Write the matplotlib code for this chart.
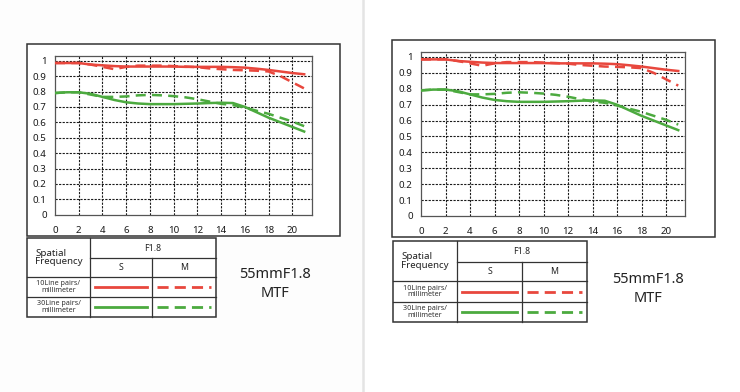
import matplotlib
matplotlib.use("Agg")
import matplotlib.pyplot as plt
from matplotlib.patches import Rectangle

plt.rcParams["font.family"] = ["Noto Sans", "DejaVu Sans"]

# MTF data (image height in mm vs contrast)
height_mm = [0, 1, 2, 3, 4, 5, 6, 7, 8, 9, 10, 11, 12, 13, 14, 15, 16, 17, 18, 19, 20, 21]
lp10_sagittal = [0.985, 0.985, 0.985, 0.975, 0.97, 0.965, 0.962, 0.962, 0.962, 0.962, 0.962,
                 0.96, 0.96, 0.96, 0.96, 0.958, 0.955, 0.948, 0.94, 0.93, 0.92, 0.912]
lp10_meridional = [0.985, 0.985, 0.985, 0.975, 0.96, 0.945, 0.96, 0.968, 0.968, 0.968, 0.965,
                   0.962, 0.958, 0.95, 0.945, 0.94, 0.938, 0.935, 0.93, 0.9, 0.86, 0.82]
lp30_sagittal = [0.79, 0.795, 0.795, 0.785, 0.765, 0.745, 0.73, 0.722, 0.718, 0.718, 0.718,
                 0.72, 0.722, 0.725, 0.727, 0.725, 0.7, 0.665, 0.63, 0.6, 0.57, 0.54]
lp30_meridional = [0.79, 0.795, 0.795, 0.78, 0.765, 0.765, 0.768, 0.775, 0.778, 0.775, 0.77,
                   0.762, 0.75, 0.735, 0.72, 0.712, 0.695, 0.675, 0.655, 0.63, 0.605, 0.575]
x_ticks = [0, 2, 4, 6, 8, 10, 12, 14, 16, 18, 20]
y_ticks = [0, 0.1, 0.2, 0.3, 0.4, 0.5, 0.6, 0.7, 0.8, 0.9, 1]
y_labels = ["0", "0.1", "0.2", "0.3", "0.4", "0.5", "0.6", "0.7", "0.8", "0.9", "1"]

RED = "#e8473d"
GREEN = "#4caa3f"
W, H = 740, 392

fig = plt.figure(figsize=(W / 100, H / 100), dpi=100)
fig.patch.set_facecolor("white")

# full-figure overlay in pixel coordinates for frames / table
ov = fig.add_axes([0, 0, 1, 1], zorder=0)
ov.set_xlim(0, W)
ov.set_ylim(H, 0)
ov.axis("off")
ov.add_patch(Rectangle((0, 0), 363, H, facecolor="#fdfdfd", edgecolor="none"))
ov.plot([363, 363], [0, H], color="#e4e4e4", lw=1.8)


def panel(frame, plot, table, title_xy):
    fx0, fy0, fx1, fy1 = frame
    ov.add_patch(Rectangle((fx0, fy0), fx1 - fx0, fy1 - fy0, facecolor="white",
                           edgecolor="#333333", lw=1.1, zorder=1))

    px0, py_one, px1, py_zero, px20 = plot
    per_unit = (py_zero - py_one)
    ytop = 1 + 5.0 / per_unit
    x_unit = (px20 - px0) / 20
    ax = fig.add_axes([px0 / W, 1 - py_zero / H, (px1 - px0) / W,
                       (py_zero - (py_one - 5.0)) / H], zorder=2)
    ax.set_xlim(0, (px1 - px0) / x_unit)
    ax.set_ylim(0, ytop)
    ax.plot(height_mm, lp10_sagittal, color=RED, lw=1.8, zorder=4)
    ax.plot(height_mm, lp10_meridional, color=RED, lw=1.8, ls=(0, (4, 2.5)), zorder=4)
    ax.plot(height_mm, lp30_sagittal, color=GREEN, lw=1.8, zorder=4)
    ax.plot(height_mm, lp30_meridional, color=GREEN, lw=1.8, ls=(0, (4, 2.5)), zorder=4)
    for xv in x_ticks[1:]:
        ax.axvline(xv, color="#1a1a1a", lw=0.8, ls=(0, (2, 1.2)), zorder=1)
    for yv in y_ticks[1:]:
        ax.axhline(yv, color="#1a1a1a", lw=0.8, ls=(0, (2, 1.2)), zorder=1)
    ax.set_xticks(x_ticks)
    ax.set_yticks(y_ticks)
    ax.set_yticklabels(y_labels)
    ax.tick_params(length=0, labelsize=7, colors="#1a1a1a")
    ax.tick_params(axis="y", pad=6)
    ax.tick_params(axis="x", pad=8)
    for s in ax.spines.values():
        s.set_color("#555555")
        s.set_linewidth(0.9)

    # legend table
    tx0, c1, c2, tx1, ty0, r1, r2, r3, ty1 = table
    kw = dict(color="#333333", lw=0.9, zorder=3)
    ov.add_patch(Rectangle((tx0, ty0), tx1 - tx0, ty1 - ty0, facecolor="white",
                           edgecolor="#333333", lw=1.1, zorder=3))
    ov.plot([c1, c1], [ty0, ty1], **kw)
    ov.plot([c2, c2], [r1, ty1], **kw)
    ov.plot([c1, tx1], [r1, r1], **kw)
    ov.plot([tx0, tx1], [r2, r2], **kw)
    ov.plot([tx0, tx1], [r3, r3], **kw)
    ov.text(tx0 + 8, (ty0 + r2) / 2, "Spatial\nFrequency", fontsize=7, ha="left",
            va="center", linespacing=0.95, color="#222222", zorder=4)
    ov.text((c1 + tx1) / 2, (ty0 + r1) / 2, "F1.8", fontsize=6.3, ha="center",
            va="center", color="#222222", zorder=4)
    ov.text((c1 + c2) / 2, (r1 + r2) / 2, "S", fontsize=6.3, ha="center",
            va="center", color="#222222", zorder=4)
    ov.text((c2 + tx1) / 2, (r1 + r2) / 2, "M", fontsize=6.3, ha="center",
            va="center", color="#222222", zorder=4)
    ov.text((tx0 + c1) / 2, (r2 + r3) / 2, "10Line pairs/\nmillimeter", fontsize=5.2,
            ha="center", va="center", linespacing=0.95, fontweight="bold",
            color="#333333", zorder=4)
    ov.text((tx0 + c1) / 2, (r3 + ty1) / 2, "30Line pairs/\nmillimeter", fontsize=5.2,
            ha="center", va="center", linespacing=0.95, fontweight="bold",
            color="#333333", zorder=4)
    for ya, yb, col in [(r2, r3, RED), (r3, ty1, GREEN)]:
        ym = (ya + yb) / 2
        ov.plot([c1 + 5, c2 - 5], [ym, ym], color=col, lw=2, zorder=4)
        ov.plot([c2 + 5, tx1 - 5], [ym, ym], color=col, lw=2,
                ls=(0, (4, 2.2)), zorder=4)

    ov.text(title_xy[0], title_xy[1], "55mmF1.8\nMTF", fontsize=10.5, ha="center",
            va="center", linespacing=1.3, color="#222222", zorder=4)


panel((27, 44, 340, 236), (55, 60.7, 312, 214.7, 292.3),
      (27, 90, 152, 216, 238, 258, 277, 297, 317), (275, 284))
panel((392, 40, 715, 237), (421, 57, 685, 216, 666),
      (393, 457, 522, 587, 241, 262, 281, 302, 322), (648, 289))

fig.savefig("out.png", dpi=100)
